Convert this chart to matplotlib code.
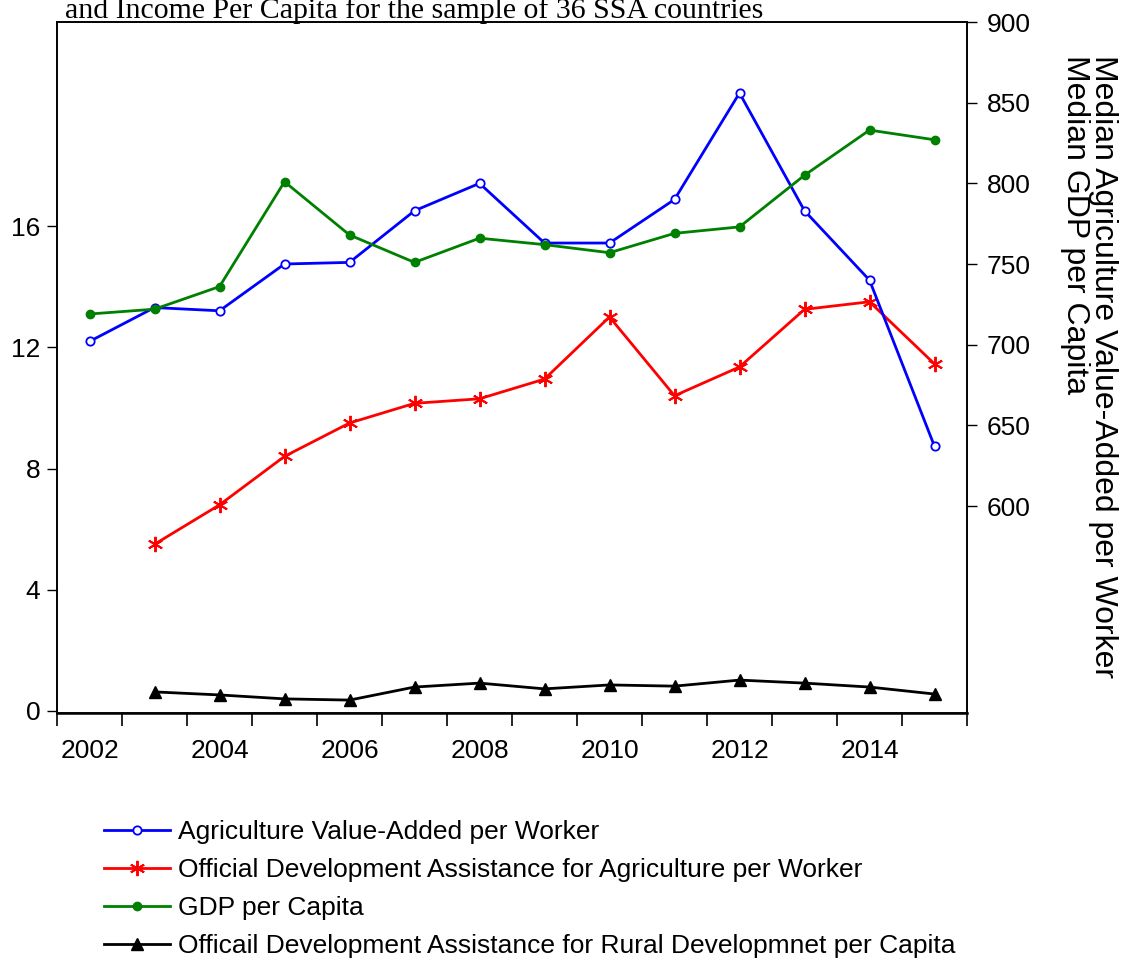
import matplotlib.pyplot as plt
import numpy as np

plt.rcParams['font.family'] = ['Liberation Sans', 'DejaVu Sans']

years = np.arange(2002, 2016)

# right axis series (2002-2015)
agri_va = [702, 723, 721, 750, 751, 783, 800, 763, 763, 790, 856, 783, 740, 637]
gdp_pc = [719, 722, 736, 801, 768, 751, 766, 762, 757, 769, 773, 805, 833, 827]

# left axis series (start 2003)
oda_agri = [np.nan, 5.5, 6.8, 8.4, 9.5, 10.15, 10.3, 10.95, 13.0, 10.4, 11.35, 13.25, 13.5, 11.45]
oda_rural = [np.nan, 0.63, 0.53, 0.40, 0.36, 0.79, 0.92, 0.73, 0.86, 0.82, 1.02, 0.92, 0.79, 0.56]

labels = ['Agriculture Value-Added per Worker',
          'Official Development Assistance for Agriculture per Worker',
          'GDP per Capita',
          'Officail Development Assistance for Rural Developmnet per Capita']

fs = 19
W, H = 1135, 966
fig = plt.figure(figsize=(W / 100, H / 100), dpi=100)
ax = fig.add_axes([57 / W, 1 - 713 / H, (967 - 57) / W, (713 - 22) / H])
ax2 = ax.twinx()

lw = 2
l_red, = ax.plot(years, oda_agri, color='#FF0000', lw=lw, marker=(6, 2, 0), ms=11, mew=1.4)
l_blk, = ax.plot(years, oda_rural, color='black', lw=lw, marker='^', ms=8)
l_blue, = ax2.plot(years, agri_va, color='#0000FF', lw=lw, marker='o', ms=6,
                   mfc='white', mec='#0000FF', mew=1.3)
l_grn, = ax2.plot(years, gdp_pc, color='#008000', lw=lw, marker='o', ms=6)

ax.set_xlim(2001.5, 2015.5)
ax.set_ylim(-0.066, 22.73)
ax2.set_ylim(471.7, 900)

ax.set_yticks([0, 4, 8, 12, 16])
ax2.set_yticks([600, 650, 700, 750, 800, 850, 900])
ax.set_xticks(np.arange(2002, 2015, 2))
ax.set_xticks(np.arange(2001.5, 2016, 1), minor=True)

ax.tick_params(axis='x', which='major', length=0, pad=19, labelsize=fs)
ax.tick_params(axis='x', which='minor', length=9, width=1.2, direction='out')
ax.tick_params(axis='y', which='both', length=7, width=1, direction='out', labelsize=fs, pad=5)
ax2.tick_params(axis='y', length=7, width=1, direction='out', labelsize=fs, pad=7)
ax.yaxis.set_minor_locator(plt.NullLocator())
ax2.yaxis.set_minor_locator(plt.NullLocator())

for a in (ax, ax2):
    for s in a.spines.values():
        s.set_linewidth(1.2)
ax.spines['bottom'].set_linewidth(1.8)

# right axis label (rotated, top-anchored)
fig.text(1089 / W, 1 - 55 / H,
         'Median Agriculture Value-Added per Worker\nMedian GDP per Capita',
         rotation=-90, ha='center', va='top', fontsize=23, linespacing=0.9,
         multialignment='left')

# title cut off at top of image
fig.text(65 / W, 1 - 18 / H,
         'and Income Per Capita for the sample of 36 SSA countries',
         family='Liberation Serif', fontsize=21.5, va='baseline', ha='left')

fig.legend([l_blue, l_red, l_grn, l_blk], labels, loc='upper left',
           bbox_to_anchor=(104 / W, 1 - 820 / H), frameon=False, fontsize=fs,
           handlelength=2.5, handletextpad=0.3, labelspacing=0.53, borderpad=0,
           borderaxespad=0)

fig.savefig('out.png', dpi=100)
